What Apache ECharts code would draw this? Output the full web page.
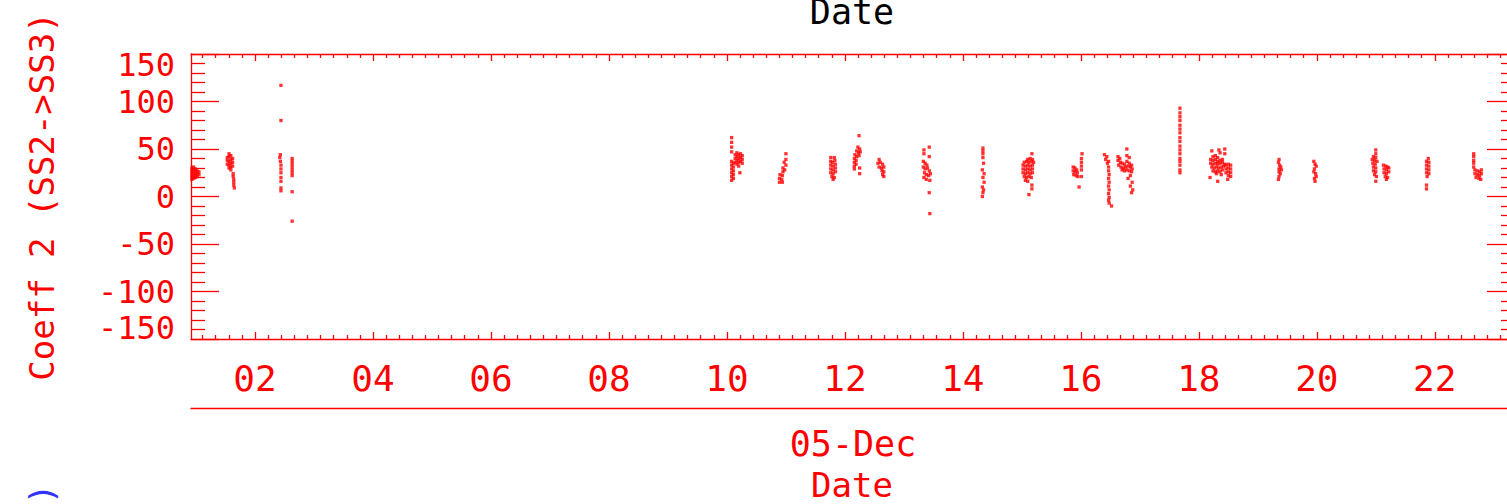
<!DOCTYPE html>
<html>
<head>
<meta charset="utf-8">
<script src="https://cdn.jsdelivr.net/npm/echarts@6/dist/echarts.min.js"></script>
<style>
html,body{margin:0;padding:0;background:#fff;}
#chart{width:1507px;height:504px;}
</style>
</head>
<body>
<div id="chart"></div>
<script>
// ---- axis ranges / ticks (hours of 05-Dec) ----
const hourMin = 0.915;
const hourMax = 23.36;
const hourTicks = [2, 4, 6, 8, 10, 12, 14, 16, 18, 20, 22];
const yMin = -150, yMax = 150, yStep = 50;

// ---- data: [hour, Coeff 2] per pass ----
const pass01 = [[0.93,30],[0.93,27],[0.93,24],[0.93,21],[0.93,18],[0.96,31],[0.96,28],[0.96,25],[0.96,22],[0.96,19],[0.99,29],[0.99,26],[0.99,23],[0.99,20],[1.02,27],[1.02,24],[1.02,21],[1.05,26],[1.05,23]];
const pass02 = [[1.56,45],[1.53,41],[1.56,42],[1.59,43],[1.53,38],[1.56,37],[1.59,39],[1.62,40],[1.53,34],[1.56,33],[1.59,35],[1.62,36],[1.56,30],[1.59,31],[1.62,32],[1.59,28],[1.63,24],[1.63,21],[1.64,18],[1.64,15],[1.64,12],[1.65,9]];
const pass03 = [[2.44,117],[2.44,80],[2.43,44],[2.42,41],[2.43,37],[2.44,33],[2.44,29],[2.44,25],[2.44,20],[2.44,16],[2.44,9],[2.44,6],[2.63,40],[2.63,37],[2.63,34],[2.63,31],[2.63,28],[2.63,25],[2.63,22],[2.63,5],[2.63,-26]];
const pass04 = [[10.08,62],[10.08,57],[10.08,52],[10.08,47],[10.08,37],[10.08,33],[10.08,29],[10.08,25],[10.08,21],[10.08,17],[10.11,35],[10.11,31],[10.11,27],[10.11,23],[10.11,19],[10.14,44],[10.14,40],[10.14,36],[10.17,46],[10.17,42],[10.17,38],[10.17,34],[10.20,44],[10.20,40],[10.20,36],[10.20,32],[10.23,45],[10.23,41],[10.23,37],[10.26,43],[10.26,39],[10.26,35],[10.22,25]];
const pass05 = [[11.00,45],[11.00,39],[10.97,36],[11.00,33],[10.95,30],[10.98,28],[10.95,26],[10.90,23],[10.94,22],[10.89,19],[10.93,18],[10.89,15],[10.94,15]];
const pass06 = [[11.76,41],[11.82,41],[11.76,37],[11.79,36],[11.83,38],[11.76,33],[11.80,32],[11.84,34],[11.76,29],[11.80,28],[11.84,30],[11.76,25],[11.80,24],[11.84,26],[11.78,21],[11.82,20],[11.80,18]];
const pass07 = [[12.24,64],[12.22,52],[12.25,50],[12.20,48],[12.23,46],[12.26,47],[12.17,44],[12.20,42],[12.24,43],[12.16,40],[12.19,38],[12.16,36],[12.19,34],[12.16,32],[12.16,29],[12.25,30],[12.25,24]];
const pass08 = [[12.58,39],[12.56,35],[12.60,36],[12.64,34],[12.58,31],[12.62,30],[12.66,31],[12.63,27],[12.66,26],[12.64,23],[12.66,21]];
const pass09 = [[13.43,52],[13.34,49],[13.34,45],[13.43,42],[13.33,37],[13.36,35],[13.39,33],[13.33,31],[13.36,29],[13.40,30],[13.43,27],[13.35,25],[13.38,23],[13.42,22],[13.45,24],[13.34,20],[13.38,18],[13.44,17],[13.43,4],[13.44,-18]];
const pass10 = [[14.34,51],[14.34,48],[14.34,45],[14.34,41],[14.35,35],[14.33,28],[14.36,24],[14.34,20],[14.36,15],[14.33,10],[14.35,7],[14.34,4],[14.33,0]];
const pass11 = [[15.17,45],[15.10,39],[15.14,40],[15.18,39],[15.04,36],[15.08,37],[15.12,36],[15.16,37],[15.20,36],[15.02,33],[15.06,32],[15.10,33],[15.14,32],[15.18,33],[15.02,29],[15.06,28],[15.10,29],[15.14,28],[15.18,29],[15.02,25],[15.06,24],[15.10,25],[15.14,24],[15.18,25],[15.04,21],[15.08,20],[15.12,21],[15.16,20],[15.06,17],[15.10,16],[15.17,12],[15.17,8],[15.12,2]];
const pass12 = [[16.02,45],[16.01,40],[16.01,36],[16.01,32],[16.01,28],[15.87,31],[15.90,30],[15.93,28],[15.87,27],[15.90,26],[15.94,25],[15.88,23],[15.92,22],[15.95,21],[16.01,21],[15.97,10]];
const pass13 = [[16.40,44],[16.44,42],[16.42,39],[16.47,37],[16.45,35],[16.47,31],[16.47,27],[16.48,23],[16.47,19],[16.48,15],[16.47,11],[16.48,7],[16.47,3],[16.48,-1],[16.47,-4],[16.48,-7],[16.52,-10]];
const pass14 = [[16.78,50],[16.63,42],[16.66,40],[16.78,43],[16.82,41],[16.63,38],[16.67,36],[16.70,35],[16.74,34],[16.78,37],[16.82,35],[16.86,33],[16.64,33],[16.68,31],[16.72,30],[16.76,31],[16.80,32],[16.84,31],[16.87,29],[16.70,28],[16.74,27],[16.78,28],[16.82,27],[16.86,26],[16.84,22],[16.80,19],[16.87,15],[16.84,11],[16.88,7],[16.86,4]];
const pass15 = [[17.68,93],[17.68,88],[17.68,84],[17.68,80],[17.68,75],[17.68,71],[17.68,67],[17.68,62],[17.68,58],[17.68,53],[17.68,49],[17.68,45],[17.68,40],[17.68,37],[17.68,33],[17.68,28],[17.68,25]];
const pass16 = [[18.22,48],[18.34,49],[18.44,50],[18.36,46],[18.44,45],[18.24,42],[18.28,43],[18.32,41],[18.20,39],[18.24,38],[18.28,39],[18.32,37],[18.36,38],[18.40,39],[18.20,35],[18.24,34],[18.28,35],[18.32,34],[18.36,35],[18.40,36],[18.44,34],[18.22,31],[18.26,30],[18.30,31],[18.34,30],[18.38,31],[18.42,32],[18.46,33],[18.50,34],[18.54,33],[18.24,27],[18.28,26],[18.32,27],[18.36,26],[18.40,28],[18.46,29],[18.50,30],[18.54,29],[18.30,24],[18.38,23],[18.46,25],[18.50,26],[18.54,25],[18.50,22],[18.54,21],[18.19,20],[18.32,16],[18.49,18]];
const pass17 = [[19.36,39],[19.35,36],[19.37,33],[19.39,31],[19.36,29],[19.40,28],[19.36,26],[19.38,24],[19.36,21],[19.35,18]];
const pass18 = [[19.95,37],[19.97,34],[19.99,32],[19.96,29],[19.95,26],[19.98,24],[19.99,21],[19.96,19],[19.97,16]];
const pass19 = [[21.00,49],[21.00,45],[20.96,42],[21.00,41],[20.94,39],[20.98,38],[21.02,37],[20.95,35],[20.99,34],[20.96,31],[21.00,30],[20.96,27],[21.00,26],[20.98,23],[21.01,21],[21.00,16],[21.13,33],[21.17,32],[21.20,31],[21.14,29],[21.18,28],[21.22,30],[21.14,25],[21.18,24],[21.22,26],[21.16,21],[21.20,20],[21.18,18]];
const pass20 = [[21.89,40],[21.86,37],[21.90,36],[21.86,33],[21.90,32],[21.86,29],[21.90,28],[21.86,25],[21.90,24],[21.87,21],[21.86,12],[21.86,8]];
const pass21 = [[22.66,45],[22.66,42],[22.66,38],[22.66,35],[22.66,31],[22.68,28],[22.72,27],[22.76,26],[22.79,28],[22.68,24],[22.72,23],[22.76,22],[22.79,24],[22.70,20],[22.75,19],[22.78,18]];

const coeffData = [].concat(pass01, pass02, pass03, pass04, pass05, pass06, pass07,
  pass08, pass09, pass10, pass11, pass12, pass13, pass14, pass15, pass16, pass17,
  pass18, pass19, pass20, pass21);

// ---- styling ----
const RED = '#ff0000';
const FONT = 'DejaVu Sans Mono';

// minor tick positions: 9 subdivisions of each 2-hour major interval
const minorTicks = [];
for (let k = -9; k <= 100; k++) {
  const v = 2 + k * 2 / 9;
  if (v > hourMin && v < hourMax && k % 9 !== 0) minorTicks.push(+v.toFixed(4));
}

function xAxisDef(pos, ticks, len, showLine, showLabel) {
  return {
    type: 'value', position: pos, min: hourMin, max: hourMax,
    axisLine: { show: showLine, onZero: false, lineStyle: { color: RED, width: 1.3 } },
    axisTick: { show: true, inside: true, length: len, customValues: ticks, lineStyle: { color: RED, width: 1.3 } },
    axisLabel: {
      show: showLabel, customValues: hourTicks, color: RED, fontFamily: FONT, fontSize: 36, margin: 21,
      formatter: v => (v < 10 ? '0' : '') + Math.round(v)
    },
    splitLine: { show: false }, minorTick: { show: false }, minorSplitLine: { show: false }
  };
}
function yAxisDef(pos, showLabel) {
  return {
    type: 'value', position: pos, min: yMin, max: yMax, interval: yStep,
    axisLine: { show: true, onZero: false, lineStyle: { color: RED, width: 1.3 } },
    axisTick: { show: true, inside: true, length: 28, lineStyle: { color: RED, width: 1.3 } },
    minorTick: { show: true, splitNumber: 5, length: 14, lineStyle: { color: RED, width: 1.3 } },
    axisLabel: {
      show: showLabel, color: RED, fontFamily: FONT, fontSize: 32, lineHeight: 22, margin: 16,
      showMinLabel: true, showMaxLabel: true, hideOverlap: false,
      verticalAlignMinLabel: 'bottom', verticalAlignMaxLabel: 'top'
    },
    splitLine: { show: false }
  };
}

const chart = echarts.init(document.getElementById('chart'), null, { renderer: 'svg' });
const yLeft = yAxisDef('left', true);
yLeft.name = 'Coeff 2 (SS2->SS3)';
yLeft.nameLocation = 'middle';
yLeft.nameGap = 132;
yLeft.nameRotate = 90;
yLeft.nameTextStyle = { color: RED, fontFamily: FONT, fontSize: 34 };

const dateAxis = {
  type: 'value', position: 'bottom', min: hourMin, max: hourMax, offset: 69,
  axisLine: { show: true, onZero: false, lineStyle: { color: RED, width: 1.3 } },
  axisTick: { show: false }, axisLabel: { show: false }, splitLine: { show: false },
  name: '05-Dec', nameLocation: 'middle', nameGap: 18,
  nameTextStyle: { color: RED, fontFamily: FONT, fontSize: 35 }
};

chart.setOption({
  animation: false,
  backgroundColor: '#ffffff',
  grid: { left: 191, right: -8, top: 54, bottom: 165, containLabel: false, outerBoundsMode: 'none' },
  xAxis: [
    xAxisDef('bottom', hourTicks, 7, true, true),
    xAxisDef('bottom', minorTicks, 4, false, false),
    xAxisDef('top', hourTicks, 7, true, false),
    xAxisDef('top', minorTicks, 4, false, false),
    dateAxis
  ],
  yAxis: [yLeft, yAxisDef('right', false)],
  graphic: [
    { type: 'text', x: 852, y: 12, style: { text: 'Date', fill: '#000', font: '35px "DejaVu Sans Mono"', lineHeight: 26, textAlign: 'center', textVerticalAlign: 'middle' } },
    { type: 'text', x: 852, y: 485, style: { text: 'Date', fill: RED, font: '34px "DejaVu Sans Mono"', lineHeight: 24, textAlign: 'center', textVerticalAlign: 'middle' } },
    { type: 'text', x: 42, y: 494, rotation: Math.PI / 2, style: { text: ')', fill: '#3333ff', font: '34px "DejaVu Sans Mono"', textAlign: 'center', textVerticalAlign: 'middle' } }
  ],
  series: [{
    type: 'scatter', xAxisIndex: 0, yAxisIndex: 0,
    symbol: 'rect', symbolSize: 3.3,
    itemStyle: { color: RED },
    data: coeffData
  }]
});
</script>
</body>
</html>
